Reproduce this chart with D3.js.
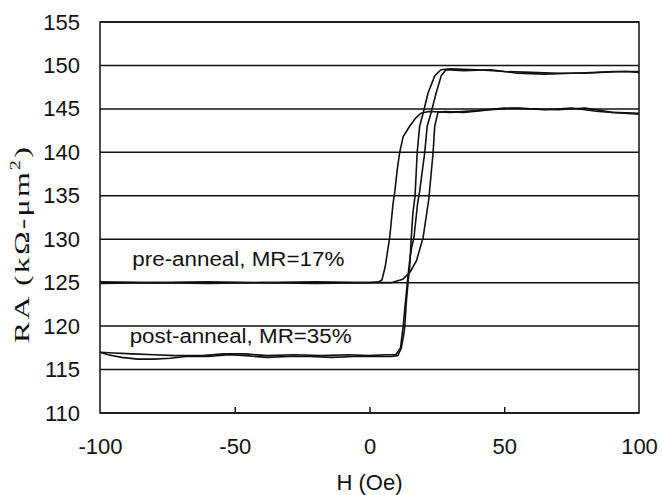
<!DOCTYPE html>
<html>
<head>
<meta charset="utf-8">
<script src="https://cdn.jsdelivr.net/npm/d3@7"></script>
<style>
  body { margin:0; background:#fff; }
  svg text { font-family: "Liberation Sans", Arial, sans-serif; fill:#111; }
</style>
</head>
<body>
<div id="chart"></div>
<script>
// tick values
const xTicks = [-100, -50, 0, 50, 100];
const yTicks = [110, 115, 120, 125, 130, 135, 140, 145, 150, 155];

// [H (Oe), RA] pairs, one array per sweep branch
const postSweepA = [[-100,117.0],[-97,116.7],[-92,116.4],[-86,116.2],[-80,116.2],[-74,116.3],[-68,116.5],[-60,116.5],[-52,116.7],[-46,116.6],[-38,116.4],[-30,116.5],[-22,116.5],[-14,116.4],[-6,116.5],[2,116.5],[8,116.5],[10.5,116.6],[11.8,117.5],[12.7,119],[13.1,120],[13.7,122.9],[14.3,125],[14.9,126.8],[15.5,130.2],[16.1,133],[16.9,135],[17.7,140],[18.6,143],[19.9,144.5],[21.7,146.8],[24.2,148.8],[26.5,149.5],[30,149.6],[40,149.5],[50,149.3],[60,149.2],[70,149.1],[80,149.1],[90,149.3],[100,149.3]];
const postSweepB = [[-100,117.0],[-95,116.9],[-88,116.8],[-80,116.7],[-72,116.6],[-62,116.6],[-54,116.8],[-46,116.8],[-38,116.6],[-28,116.7],[-18,116.6],[-8,116.7],[0,116.6],[6,116.7],[9.8,116.7],[11.5,117.5],[12.5,120],[13.4,123],[14.2,125.5],[14.9,127.5],[15.6,129],[16.5,130.2],[17.8,134],[18.6,135.5],[20.5,140],[21.4,143],[22.8,144.5],[24.7,146.8],[26.6,148.8],[28.4,149.5],[35,149.4],[45,149.5],[55,149.1],[65,149.0],[75,149.1],[85,149.2],[95,149.3],[100,149.2]];
const preSweepA = [[-100,125.1],[-80,125.0],[-60,125.1],[-40,125.0],[-20,125.1],[0,125.0],[3.5,125.1],[4.6,125.3],[5.8,126.8],[7.5,130.2],[8.7,134],[9.4,135.5],[10.3,138],[11.2,140],[12.5,141.8],[14.9,143],[17,143.9],[19.1,144.5],[22,144.7],[30,144.6],[40,144.8],[50,145.1],[60,145.0],[70,144.9],[80,145.1],[90,144.6],[100,144.5]];
const preSweepB = [[-100,124.9],[-80,125.0],[-60,124.9],[-40,125.0],[-20,124.9],[0,125.0],[8,125.0],[12.4,125.4],[15,126.2],[17.4,127.5],[19.9,130.2],[22,134.6],[23.6,140],[24.2,143],[25.4,144.6],[28,144.7],[35,144.6],[45,144.9],[55,145.1],[65,144.9],[75,145.1],[85,144.7],[100,144.4]];

const labels = [
  { text:"pre-anneal, MR=17%", h:-88, ra:126.9, len:212 },
  { text:"post-anneal, MR=35%", h:-89, ra:118.0, len:222 }
];

const W = 662, H = 495;
const m = { top:22, right:23, bottom:82, left:100 };
const iw = W - m.left - m.right, ih = H - m.top - m.bottom;

const svg = d3.select("#chart").append("svg").attr("width", W).attr("height", H);
const g = svg.append("g").attr("transform", `translate(${m.left},${m.top})`);

const x = d3.scaleLinear().domain([-100, 100]).range([0, iw]);
const y = d3.scaleLinear().domain([110, 155]).range([ih, 0]);

// horizontal grid, every 5
g.append("g").selectAll("line").data(yTicks).enter().append("line")
  .attr("x1", 0).attr("x2", iw)
  .attr("y1", d => y(d)).attr("y2", d => y(d))
  .attr("stroke", "#111").attr("stroke-width", 1.5);

// the four sweeps, all plain black
const line = d3.line().x(d => x(d[0])).y(d => y(d[1]));
[postSweepA, postSweepB, preSweepA, preSweepB].forEach(s => {
  g.append("path").datum(s)
    .attr("fill", "none").attr("stroke", "#111")
    .attr("stroke-width", 1.6).attr("stroke-linejoin", "round")
    .attr("d", line);
});

// frame
g.append("rect").attr("width", iw).attr("height", ih)
  .attr("fill", "none").attr("stroke", "#111").attr("stroke-width", 1.5);

// x axis: inward ticks, labels below
const gx = g.append("g").attr("transform", `translate(0,${ih})`)
  .call(d3.axisBottom(x).tickValues(xTicks).tickSize(-6).tickPadding(25).tickFormat(d3.format("d")));
gx.select(".domain").remove();
gx.selectAll("line").attr("stroke", "#111").attr("stroke-width", 1.5);
gx.selectAll(".tick").filter(d => d === -100 || d === 100).select("line").remove();
gx.selectAll("text").attr("font-size", 22).attr("fill", "#111")
  .attr("font-family", "Liberation Sans, Arial, sans-serif").text(d => d < 0 ? "-" + Math.abs(d) : d);

// y axis labels only
const gy = g.append("g").call(d3.axisLeft(y).tickValues(yTicks).tickSize(0).tickPadding(20));
gy.select(".domain").remove();
gy.selectAll("text").attr("font-size", 22).attr("fill", "#111")
  .attr("font-family", "Liberation Sans, Arial, sans-serif");

// axis titles
svg.append("text").attr("x", m.left + x(0)).attr("y", 490)
  .attr("text-anchor", "middle").attr("font-size", 22).text("H (Oe)");

// the scanned y title is stretched along its length, so scale it that way
const yt = svg.append("text")
  .attr("transform", "translate(29,244) rotate(-90) scale(1.45,1)")
  .attr("text-anchor", "middle")
  .attr("font-size", 22)
  .attr("letter-spacing", 1.5)
  .style("font-family", "'Liberation Serif', 'Times New Roman', serif");
yt.append("tspan").text("RA (kΩ-μm");
yt.append("tspan").attr("font-size", 14).attr("dy", -9).text("2");
yt.append("tspan").attr("dy", 9).text(")");

// in-plot labels
g.selectAll(".lab").data(labels).enter().append("text")
  .attr("x", d => x(d.h)).attr("y", d => y(d.ra))
  .attr("font-size", 20)
  .attr("textLength", d => d.len).attr("lengthAdjust", "spacingAndGlyphs")
  .text(d => d.text);
</script>
</body>
</html>
